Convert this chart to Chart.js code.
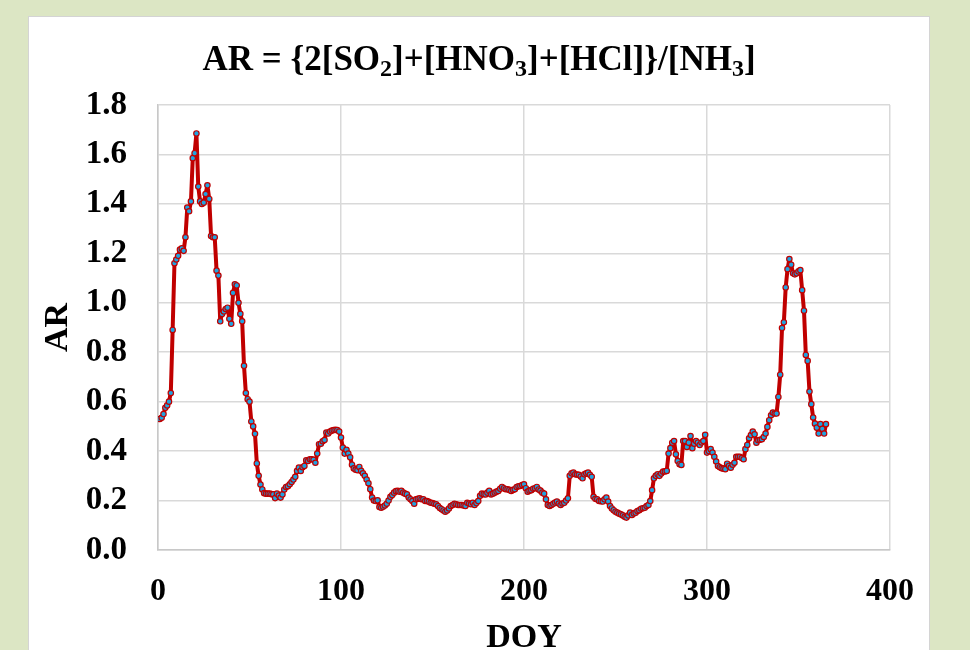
<!DOCTYPE html>
<html>
<head>
<meta charset="utf-8">
<script src="https://cdn.jsdelivr.net/npm/chart.js@4"></script>
<style>
  html, body { margin: 0; padding: 0; overflow: hidden; }
  body { width: 970px; height: 650px; background: #dce6c4; position: relative; }
  #panel { position: absolute; left: 28px; top: 16px; width: 900px; height: 700px; background: #fff; border: 1px solid #d4d4d4; }
  #wrap { position: absolute; left: 0; top: 0; width: 970px; height: 680px; }
</style>
</head>
<body>
<div id="panel"></div>
<div id="wrap"><canvas id="arChart" width="970" height="680"></canvas></div>
<script>
// day of year of the first sample, one sample per day
const startDay = 1;

// AR, day 1 .. 365
const arValues = [
  0.530, 0.535, 0.550, 0.575, 0.585, 0.600, 0.635, 0.890, 1.160, 1.175,
  1.190, 1.215, 1.220, 1.210, 1.265, 1.385, 1.370, 1.410, 1.585, 1.605,
  1.685, 1.470, 1.410, 1.400, 1.405, 1.440, 1.475, 1.420, 1.270, 1.265,
  1.265, 1.130, 1.110, 0.925, 0.955, 0.965, 0.975, 0.980, 0.935, 0.915,
  1.040, 1.075, 1.070, 1.000, 0.955, 0.925, 0.745, 0.635, 0.610, 0.600,
  0.520, 0.500, 0.470, 0.350, 0.300, 0.265, 0.245, 0.230, 0.228, 0.228,
  0.228, 0.226, 0.225, 0.210, 0.228, 0.220, 0.212, 0.225, 0.245, 0.255,
  0.258, 0.266, 0.275, 0.285, 0.296, 0.320, 0.333, 0.320, 0.335, 0.340,
  0.363, 0.360, 0.367, 0.367, 0.365, 0.353, 0.390, 0.428, 0.430, 0.440,
  0.445, 0.475, 0.471, 0.479, 0.483, 0.485, 0.486, 0.485, 0.479, 0.455,
  0.414, 0.390, 0.405, 0.390, 0.375, 0.345, 0.330, 0.325, 0.323, 0.336,
  0.320, 0.310, 0.300, 0.285, 0.270, 0.246, 0.212, 0.200, 0.198, 0.201,
  0.174, 0.171, 0.175, 0.180, 0.187, 0.200, 0.215, 0.222, 0.232, 0.238,
  0.239, 0.236, 0.239, 0.232, 0.228, 0.225, 0.212, 0.205, 0.198, 0.187,
  0.205, 0.207, 0.209, 0.205, 0.205, 0.198, 0.198, 0.195, 0.191, 0.190,
  0.187, 0.185, 0.178, 0.170, 0.165, 0.160, 0.155, 0.160, 0.168, 0.178,
  0.182, 0.187, 0.185, 0.182, 0.182, 0.182, 0.180, 0.178, 0.191, 0.188,
  0.185, 0.191, 0.182, 0.190, 0.198, 0.219, 0.228, 0.226, 0.225, 0.232,
  0.239, 0.225, 0.228, 0.232, 0.236, 0.239, 0.248, 0.255, 0.250, 0.246,
  0.246, 0.243, 0.239, 0.243, 0.246, 0.255, 0.258, 0.259, 0.263, 0.266,
  0.250, 0.236, 0.240, 0.242, 0.248, 0.250, 0.255, 0.245, 0.240, 0.232,
  0.228, 0.205, 0.182, 0.178, 0.182, 0.187, 0.192, 0.196, 0.188, 0.182,
  0.188, 0.191, 0.200, 0.209, 0.300, 0.310, 0.313, 0.306, 0.305, 0.304,
  0.297, 0.290, 0.306, 0.310, 0.313, 0.304, 0.296, 0.215, 0.207, 0.205,
  0.198, 0.197, 0.196, 0.205, 0.212, 0.196, 0.178, 0.168, 0.161, 0.155,
  0.151, 0.147, 0.144, 0.140, 0.134, 0.131, 0.140, 0.151, 0.142, 0.148,
  0.151, 0.158, 0.161, 0.167, 0.169, 0.171, 0.178, 0.182, 0.198, 0.242,
  0.290, 0.300, 0.306, 0.300, 0.309, 0.317, 0.318, 0.320, 0.390, 0.412,
  0.434, 0.441, 0.387, 0.360, 0.347, 0.344, 0.441, 0.441, 0.417, 0.434,
  0.461, 0.412, 0.430, 0.441, 0.434, 0.425, 0.435, 0.441, 0.466, 0.394,
  0.400, 0.408, 0.394, 0.377, 0.358, 0.340, 0.335, 0.331, 0.329, 0.327,
  0.349, 0.340, 0.333, 0.345, 0.353, 0.377, 0.377, 0.377, 0.372, 0.367,
  0.408, 0.425, 0.452, 0.465, 0.479, 0.468, 0.434, 0.444, 0.446, 0.448,
  0.457, 0.471, 0.498, 0.525, 0.545, 0.556, 0.552, 0.552, 0.619, 0.709,
  0.898, 0.921, 1.062, 1.136, 1.177, 1.154, 1.119, 1.115, 1.119, 1.127,
  1.132, 1.051, 0.968, 0.789, 0.765, 0.641, 0.590, 0.536, 0.511, 0.495,
  0.471, 0.509, 0.490, 0.471, 0.509
];

const xTicks = [0, 100, 200, 300, 400];
const yTicks = [0.0, 0.2, 0.4, 0.6, 0.8, 1.0, 1.2, 1.4, 1.6, 1.8];

// title pieces: [text, isSubscript]
const titleParts = [
  ['AR = {2[SO', false], ['2', true], [']+[HNO', false], ['3', true],
  [']+[HCl]}/[NH', false], ['3', true], [']', false]
];

const serif = '"Liberation Serif", "Times New Roman", serif';

const points = arValues.map((v, i) => ({ x: startDay + i, y: v }));

const titlePlugin = {
  id: 'subTitle',
  afterDraw(chart) {
    const ctx = chart.ctx;
    const big = 'bold 35px ' + serif;
    const small = 'bold 24px ' + serif;
    let total = 0;
    titleParts.forEach(([t, sub]) => {
      ctx.font = sub ? small : big;
      total += ctx.measureText(t).width;
    });
    let x = 479 - total / 2;
    const base = 70;
    ctx.save();
    ctx.fillStyle = '#000';
    ctx.textBaseline = 'alphabetic';
    ctx.textAlign = 'left';
    titleParts.forEach(([t, sub]) => {
      ctx.font = sub ? small : big;
      ctx.fillText(t, x, sub ? base + 6 : base);
      x += ctx.measureText(t).width;
    });
    ctx.restore();
  }
};

new Chart(document.getElementById('arChart'), {
  type: 'line',
  data: {
    datasets: [{
      label: 'AR',
      data: points,
      borderColor: '#c00000',
      borderWidth: 4,
      borderJoinStyle: 'round',
      borderCapStyle: 'round',
      pointRadius: 2.7,
      pointBorderWidth: 1.2,
      pointBorderColor: '#c00000',
      pointBackgroundColor: '#1fa3e0',
      tension: 0,
      fill: false
    }]
  },
  options: {
    responsive: false,
    animation: false,
    layout: { padding: { left: 0, right: 80, top: 105, bottom: 0 } },
    plugins: {
      legend: { display: false },
      tooltip: { enabled: false }
    },
    scales: {
      x: {
        type: 'linear',
        min: 0,
        max: 400,
        afterBuildTicks: s => { s.ticks = xTicks.map(v => ({ value: v })); },
        afterFit: s => { s.height = 130; },
        grid: { color: '#d9d9d9', lineWidth: 1.5, drawTicks: false },
        border: { color: '#c8c8c8', width: 1.5 },
        ticks: {
          padding: 23,
          color: '#000',
          font: { family: serif, size: 32, weight: 'bold' }
        },
        title: {
          display: true,
          text: 'DOY',
          color: '#000',
          padding: { top: 0, bottom: 21 },
          font: { family: serif, size: 34, weight: 'bold' }
        }
      },
      y: {
        min: 0,
        max: 1.8,
        afterBuildTicks: s => { s.ticks = yTicks.map(v => ({ value: v })); },
        afterFit: s => { s.width = 158; },
        grid: { color: '#d9d9d9', lineWidth: 1.5, drawTicks: false },
        border: { color: '#c8c8c8', width: 1.5 },
        ticks: {
          padding: 31,
          color: '#000',
          font: { family: serif, size: 33, weight: 'bold' },
          callback: v => v.toFixed(1)
        },
        title: {
          display: true,
          text: 'AR',
          color: '#000',
          padding: { top: 38, bottom: 0 },
          font: { family: serif, size: 34, weight: 'bold' }
        }
      }
    }
  },
  plugins: [titlePlugin]
});
</script>
</body>
</html>
